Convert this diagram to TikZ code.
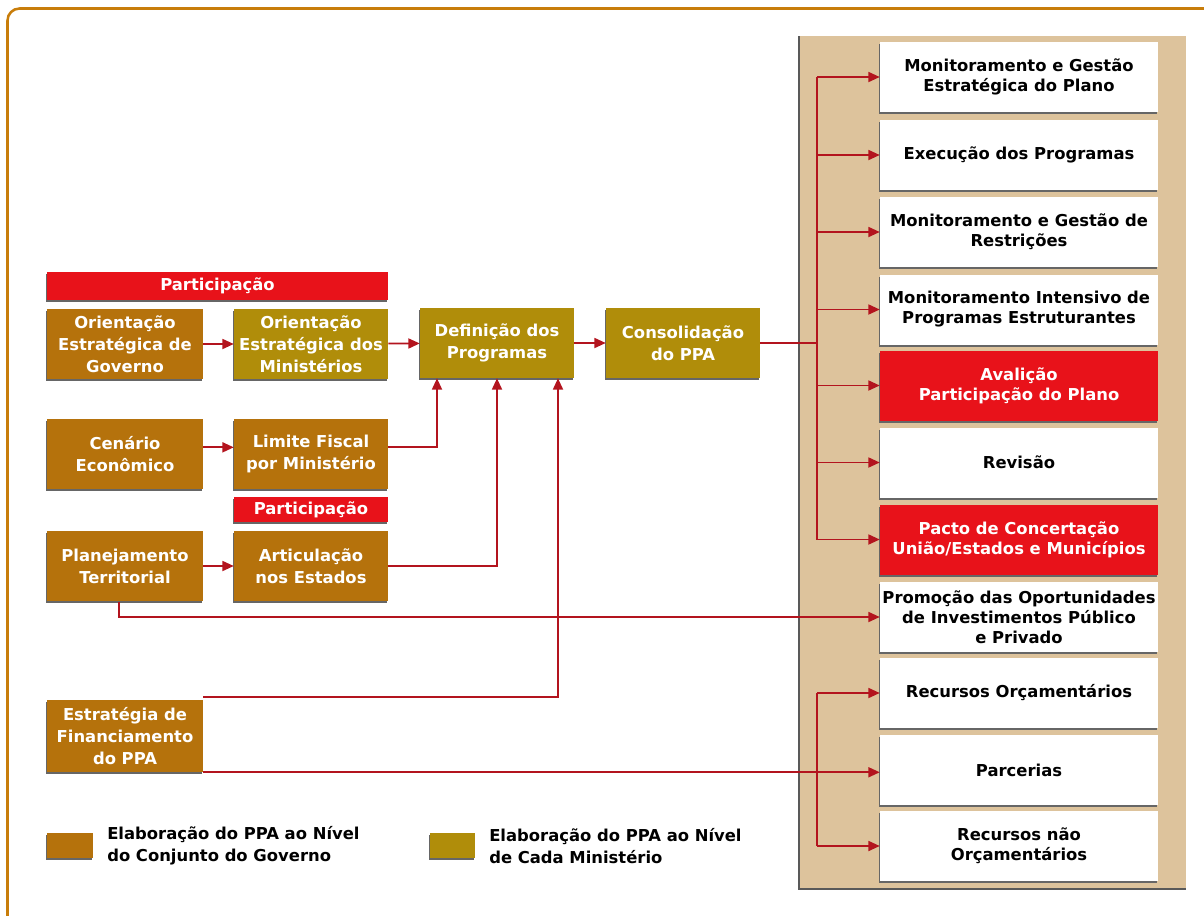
\documentclass[tikz,border=0pt]{standalone}
\usepackage{fontspec}
\setmainfont{DejaVu Sans}
\usetikzlibrary{arrows.meta,shadows,calc}

\definecolor{govbrown}{HTML}{B5720C}
\definecolor{minolive}{HTML}{B08D0A}
\definecolor{partred}{HTML}{E8121A}
\definecolor{linkred}{HTML}{B3141E}
\definecolor{framecol}{HTML}{C87D0A}
\definecolor{tancol}{HTML}{DDC39C}

\begin{document}
\begin{tikzpicture}[x=0.75pt,y=-0.75pt]
	\tikzstyle{every node}=[font=\bfseries\fontsize{12.3}{16.5}\selectfont, align=center, inner sep=0pt]
	\tikzstyle{boxshadow}=[general shadow={fill=black!60, shadow xshift=-0.8pt, shadow yshift=-1.6pt}]
	\tikzstyle{govbox}=[boxshadow, fill=govbrown, text=white, minimum width=117pt, minimum height=53pt]
	\tikzstyle{minbox}=[boxshadow, fill=minolive, text=white, minimum width=115.5pt, minimum height=53pt]
	\tikzstyle{partbar}=[boxshadow, fill=partred, text=white]
	\tikzstyle{rbox}=[boxshadow, fill=white, text=black, minimum width=208.5pt, minimum height=52.5pt, font=\bfseries\fontsize{12.3}{15}\selectfont]
	\tikzstyle{redbox}=[rbox, fill=partred, text=white]
	\tikzstyle{wire}=[draw=linkred, line width=1.3pt]
	\tikzstyle{link}=[wire, -{Triangle[length=8.5pt,width=7.5pt]}]
	
	\useasboundingbox (0,0) rectangle (1204,915);
	\begin{scope}
	\clip (0,0) rectangle (1204,915);
	\draw[framecol, line width=1.9pt, rounded corners=9pt] (7.5,8.5) rectangle (1240,950);
	\end{scope}
	
	% painel direito
	\fill[tancol] (798,36) rectangle (1186,890);
	\draw[black!65, line width=2pt] (799,36) -- (799,889) -- (1186,889);
	
	% elaboracao
	\node[partbar, minimum width=255.75pt, minimum height=21pt] (part1) at (217.5,286) {Participação};
	\node[govbox] (gov) at (125,344) {Orientação\\Estratégica de\\Governo};
	\node[minbox] (min) at (311,344) {Orientação\\Estratégica dos\\Ministérios};
	\node[minbox, minimum height=52.5pt] (def) at (497,343) {Definição dos\\Programas};
	\node[minbox, minimum height=52.5pt] (cons) at (683,343) {Consolidação\\do PPA};
	\node[govbox] (cen) at (125,454) {Cenário\\Econômico};
	\node[govbox, minimum width=115.5pt] (lim) at (311,454) {Limite Fiscal\\por Ministério};
	\node[partbar, minimum width=115.5pt, minimum height=18.75pt] (part2) at (311,509.5) {Participação};
	\node[govbox] (plan) at (125,566) {Planejamento\\Territorial};
	\node[govbox, minimum width=115.5pt] (art) at (311,566) {Articulação\\nos Estados};
	\node[govbox, minimum height=54pt] (fin) at (125,736) {Estratégia de\\Financiamento\\do PPA};
	
	% gestao
	\node[rbox] (monit) at (1019,77) {Monitoramento e Gestão\\Estratégica do Plano};
	\node[rbox] (exec) at (1019,155) {Execução dos Programas};
	\node[rbox] (restr) at (1019,232) {Monitoramento e Gestão de\\Restrições};
	\node[rbox] (intens) at (1019,309.5) {Monitoramento Intensivo de\\Programas Estruturantes};
	\node[redbox] (aval) at (1019,385.5) {Avalição\\Participação do Plano};
	\node[rbox] (rev) at (1019,462.5) {Revisão};
	\node[redbox] (pacto) at (1019,539.5) {Pacto de Concertação\\União/Estados e Municípios};
	\node[rbox] (prom) at (1019,617) {Promoção das Oportunidades\\de Investimentos Público\\e Privado};
	\node[rbox] (recorc) at (1019,693) {Recursos Orçamentários};
	\node[rbox] (parc) at (1019,770) {Parcerias};
	\node[rbox] (naoorc) at (1019,846) {Recursos não\\Orçamentários};
	
	% legenda
	\node[govbox, minimum width=34.5pt, minimum height=19pt] (leggov) at (70,845.5) {};
	\node[anchor=west, align=left, text=black] (legtxt1) at (107,846) {Elaboração do PPA ao Nível\\do Conjunto do Governo};
	\node[minbox, minimum width=34pt, minimum height=19pt] (legmin) at (452.5,845.5) {};
	\node[anchor=west, align=left, text=black] (legtxt2) at (489,846) {Elaboração do PPA ao Nível\\de Cada Ministério};
	
	% ligacoes
	\coordinate (trunk) at (817,0);
	\draw[link] (gov) -- (min);
	\draw[link] (min) -- (def);
	\draw[link] (def) -- (cons);
	\draw[link] ([yshift=5pt]cen.east) -- ([yshift=5pt]lim.west);
	\draw[link] (plan) -- (art);
	\draw[link] ([yshift=5pt]lim.east) -| ($(def.south)+(-60,0)$);
	\draw[link] (art.east) -| (def.south);
	\draw[link] ([yshift=2pt]fin.north east) -| ($(def.south)+(61,0)$);
	\draw[link] ([xshift=-4.5pt]plan.south) |- (prom.west);
	\draw[link] (fin.south east) -- (fin.south east -| parc.west);
	
	\draw[wire] (cons.east) -- (cons.east -| trunk);
	\draw[wire] (trunk |- monit.west) -- (trunk |- pacto.west);
	\draw[link] (trunk |- monit.west) -- (monit.west);
	\draw[link] (trunk |- exec.west) -- (exec.west);
	\draw[link] (trunk |- restr.west) -- (restr.west);
	\draw[link] (trunk |- intens.west) -- (intens.west);
	\draw[link] (trunk |- aval.west) -- (aval.west);
	\draw[link] (trunk |- rev.west) -- (rev.west);
	\draw[link] (trunk |- pacto.west) -- (pacto.west);
	
	\draw[wire] (trunk |- recorc.west) -- (trunk |- naoorc.west);
	\draw[link] (trunk |- recorc.west) -- (recorc.west);
	\draw[link] (trunk |- naoorc.west) -- (naoorc.west);
\end{tikzpicture}
\end{document}
